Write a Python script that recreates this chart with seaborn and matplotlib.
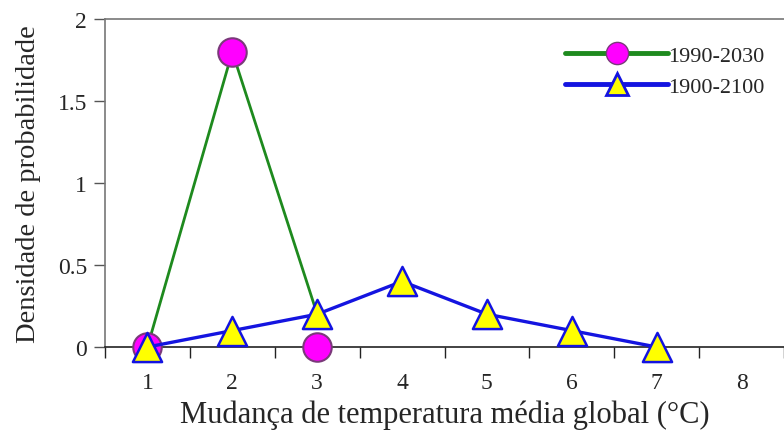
import matplotlib
matplotlib.use("Agg")
import matplotlib.pyplot as plt
import seaborn as sns
import pandas as pd
from matplotlib.lines import Line2D

# Data
x_1990 = [1, 2, 3]
line_1990 = [0.0, 1.8, 0.2]     # line path as drawn in the reference
marker_1990 = [0.0, 1.8, 0.0]   # marker positions
x_1900 = [1, 2, 3, 4, 5, 6, 7]
y_1900 = [0.0, 0.1, 0.2, 0.4, 0.2, 0.1, 0.0]
x_ticklabels = ["1", "2", "3", "4", "5", "6", "7", "8"]
y_ticks = [0, 0.5, 1, 1.5, 2]
y_ticklabels = ["0", "0.5", "1", "1.5", "2"]
labels = ["1990-2030", "1900-2100"]

sns.set_style("white")
plt.rcParams["font.family"] = ["Liberation Serif", "DejaVu Serif"]

fig = plt.figure(figsize=(7.84, 4.35), dpi=100)
ax = fig.add_axes([105/784, 1 - 348/435, 1 - 105/784, (348 - 20)/435])

green = "#1e8a1e"
blue = "#1414e0"
mag = "#ff00ff"

df1 = pd.DataFrame({"x": x_1990, "line": line_1990, "m": marker_1990})
df2 = pd.DataFrame({"x": x_1900, "y": y_1900})

sns.lineplot(data=df1, x="x", y="line", ax=ax, color=green, linewidth=2.0,
             zorder=2, clip_on=False)
sns.scatterplot(data=df1, x="x", y="m", ax=ax, s=420, color=mag,
                edgecolor="#7a3a7a", linewidth=1.5, zorder=3, clip_on=False)
sns.lineplot(data=df2, x="x", y="y", ax=ax, color=blue, linewidth=2.4,
             zorder=4, clip_on=False)
sns.scatterplot(data=df2, x="x", y="y", ax=ax, s=440, marker="^", color="#ffff00",
                edgecolor=blue, linewidth=1.8, zorder=5, clip_on=False)

ax.set_xlim(0.5, 8.5)
ax.set_ylim(0, 2)
ax.set_xticks(range(1, 9))
ax.set_xticklabels(x_ticklabels, fontsize=17)
ax.set_xticks([i + 0.5 for i in range(0, 9)], minor=True)
ax.tick_params(axis="x", which="major", length=0, pad=18)
ax.tick_params(axis="x", which="minor", length=8, width=1, direction="out",
               color="#222222", bottom=True)
ax.set_yticks(y_ticks)
ax.set_yticklabels(y_ticklabels, fontsize=17)
ax.tick_params(axis="y", length=8, width=1, direction="out", color="#555555",
               left=True, pad=5)

for s in ["top", "left"]:
    ax.spines[s].set_color("#777777")
    ax.spines[s].set_linewidth(1.2)
ax.spines["bottom"].set_color("#222222")
ax.spines["bottom"].set_linewidth(1.2)
ax.spines["right"].set_visible(False)

ax.set_xlabel("Mudança de temperatura média global (°C)", fontsize=22, labelpad=5)
ax.set_ylabel("Densidade de probabilidade", fontsize=20.5, labelpad=12)

handles = [
    Line2D([0], [0], color=green, linewidth=3.5, marker="o", markersize=16,
           markerfacecolor=mag, markeredgecolor="#7a3a7a"),
    Line2D([0], [0], color=blue, linewidth=3.5, marker="^", markersize=16,
           markerfacecolor="#ffff00", markeredgecolor=blue, markeredgewidth=2),
]
ax.legend(handles, labels, loc="upper right", bbox_to_anchor=(1.0, 0.98),
          frameon=False, fontsize=16, handlelength=4.6, handletextpad=0.0,
          labelspacing=0.45)

fig.savefig("out.png", dpi=100)
